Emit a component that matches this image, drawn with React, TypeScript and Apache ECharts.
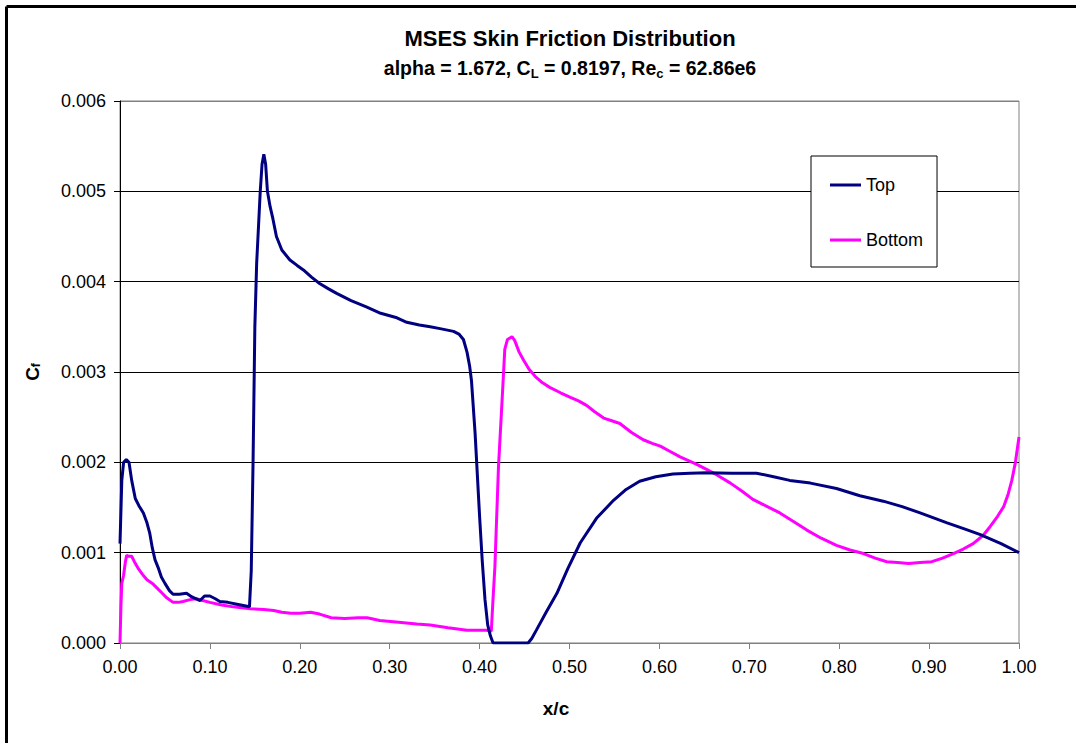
import React, { useEffect, useRef } from "react";
import * as echarts from "echarts";

const topX = [0.000, 0.002, 0.004, 0.007, 0.010, 0.013, 0.017, 0.021, 0.026, 0.030, 0.033, 0.036, 0.039, 0.043, 0.046, 0.050, 0.055, 0.059, 0.066, 0.074, 0.080, 0.089, 0.094, 0.100, 0.106, 0.111, 0.120, 0.130, 0.140, 0.144, 0.146, 0.148, 0.150, 0.152, 0.154, 0.156, 0.158, 0.160, 0.162, 0.164, 0.167, 0.170, 0.174, 0.180, 0.189, 0.197, 0.204, 0.213, 0.222, 0.232, 0.241, 0.257, 0.274, 0.290, 0.308, 0.319, 0.333, 0.345, 0.356, 0.371, 0.377, 0.382, 0.386, 0.389, 0.391, 0.395, 0.400, 0.403, 0.406, 0.409, 0.412, 0.415, 0.454, 0.458, 0.463, 0.474, 0.486, 0.498, 0.512, 0.530, 0.549, 0.563, 0.578, 0.596, 0.615, 0.634, 0.653, 0.680, 0.708, 0.727, 0.745, 0.768, 0.797, 0.823, 0.849, 0.870, 0.890, 0.920, 0.940, 0.957, 0.980, 1.000];
const topCf = [0.0011, 0.0018, 0.0020, 0.00203, 0.0020, 0.0018, 0.0016, 0.00152, 0.00144, 0.00133, 0.00122, 0.00105, 0.00092, 0.00082, 0.00073, 0.00066, 0.00058, 0.00054, 0.00054, 0.00055, 0.00051, 0.00047, 0.00052, 0.00052, 0.00049, 0.00046, 0.00045, 0.00043, 0.00041, 0.0004, 0.0008, 0.0020, 0.0035, 0.0042, 0.0046, 0.0050, 0.0053, 0.00541, 0.0053, 0.0050, 0.00483, 0.0047, 0.0045, 0.00435, 0.00424, 0.00418, 0.00413, 0.00405, 0.00398, 0.00392, 0.00387, 0.00379, 0.00372, 0.00365, 0.0036, 0.00355, 0.00352, 0.0035, 0.00348, 0.00345, 0.00342, 0.00336, 0.00322, 0.00306, 0.0029, 0.00232, 0.0014, 0.0009, 0.00048, 0.0002, 0.00008, 0.0, 0.0, 0.00005, 0.00014, 0.00034, 0.00055, 0.00082, 0.00111, 0.00138, 0.00158, 0.0017, 0.00179, 0.00184, 0.00187, 0.00188, 0.001885, 0.00188, 0.00188, 0.00184, 0.0018, 0.00177, 0.00171, 0.00163, 0.00157, 0.00151, 0.00144, 0.00133, 0.00126, 0.0012, 0.0011, 0.001];

const bottomX = [0.000, 0.001, 0.002, 0.004, 0.006, 0.0074, 0.010, 0.013, 0.016, 0.020, 0.025, 0.030, 0.036, 0.041, 0.047, 0.052, 0.059, 0.065, 0.070, 0.078, 0.085, 0.092, 0.100, 0.113, 0.126, 0.145, 0.160, 0.171, 0.180, 0.190, 0.200, 0.212, 0.222, 0.235, 0.250, 0.265, 0.275, 0.289, 0.310, 0.330, 0.345, 0.365, 0.386, 0.408, 0.413, 0.415, 0.417, 0.421, 0.424, 0.426, 0.428, 0.431, 0.436, 0.439, 0.444, 0.449, 0.455, 0.462, 0.470, 0.478, 0.490, 0.501, 0.510, 0.519, 0.528, 0.538, 0.547, 0.556, 0.569, 0.582, 0.592, 0.601, 0.612, 0.623, 0.641, 0.653, 0.664, 0.679, 0.692, 0.704, 0.720, 0.734, 0.750, 0.764, 0.780, 0.797, 0.812, 0.827, 0.840, 0.853, 0.865, 0.877, 0.890, 0.903, 0.915, 0.927, 0.938, 0.949, 0.960, 0.968, 0.976, 0.983, 0.988, 0.992, 0.996, 1.000];
const bottomCf = [0.0, 0.0004, 0.00066, 0.00075, 0.0009, 0.00097, 0.00096, 0.00096, 0.0009, 0.00083, 0.00076, 0.0007, 0.00066, 0.00061, 0.00055, 0.0005, 0.00045, 0.00045, 0.00046, 0.00048, 0.00049, 0.00047, 0.00045, 0.00042, 0.0004, 0.00038, 0.00037, 0.00036, 0.00034, 0.00033, 0.00033, 0.00034, 0.00032, 0.00028, 0.00027, 0.00028, 0.00028, 0.00025, 0.00023, 0.00021, 0.0002, 0.00017, 0.00014, 0.00014, 0.00013, 0.0005, 0.00084, 0.00195, 0.0025, 0.00287, 0.00325, 0.00336, 0.00339, 0.00335, 0.00322, 0.00313, 0.00303, 0.00295, 0.00288, 0.00283, 0.00277, 0.00272, 0.00268, 0.00263, 0.00256, 0.00249, 0.00246, 0.00243, 0.00233, 0.00225, 0.00221, 0.00218, 0.00212, 0.00206, 0.00198, 0.00192, 0.00186, 0.00177, 0.00168, 0.00159, 0.00151, 0.00144, 0.00134, 0.00125, 0.00116, 0.00108, 0.00103, 0.00099, 0.00094, 0.0009, 0.00089, 0.00088, 0.00089, 0.0009, 0.00094, 0.00099, 0.00104, 0.0011, 0.00119, 0.00129, 0.0014, 0.00151, 0.00165, 0.0018, 0.002, 0.00228];

const seriesNames = ["Top", "Bottom"];
const seriesColors = ["#000080", "#FF00FF"];
const titleLine1 = "MSES Skin Friction Distribution";
const xAxisTitle = "x/c";

const FONT = "'Liberation Sans', Arial, sans-serif";

export default function App() {
  const ref = useRef<HTMLDivElement>(null);
  useEffect(() => {
    if (!ref.current) return;
    const chart = echarts.init(ref.current, undefined, { renderer: "svg" });
    const pairs = (xs: number[], ys: number[]) => xs.map((x, i) => [x, ys[i]]);
    chart.setOption({
      animation: false,
      backgroundColor: "#ffffff",
      textStyle: { fontFamily: FONT },
      grid: {
        left: 120, right: 57, top: 101, bottom: 100,
        show: true, borderColor: "#808080", borderWidth: 1, backgroundColor: "transparent",
      },
      legend: {
        orient: "vertical",
        left: 811, top: 156,
        padding: [20, 14, 18, 19],
        itemGap: 37,
        itemWidth: 31, itemHeight: 3,
        icon: "rect",
        backgroundColor: "#ffffff",
        borderColor: "#000000", borderWidth: 1,
        textStyle: { fontFamily: FONT, fontSize: 18, color: "#000", lineHeight: 18 },
        data: seriesNames,
      },
      xAxis: {
        type: "value", min: 0, max: 1, interval: 0.1,
        axisLine: { show: true, lineStyle: { color: "#808080", width: 1 } },
        axisTick: { show: true, inside: false, length: 6, lineStyle: { color: "#808080" } },
        axisLabel: { margin: 15, fontSize: 18, fontFamily: FONT, color: "#000", formatter: (v: number) => v.toFixed(2) },
        splitLine: { show: false },
      },
      yAxis: {
        type: "value", min: 0, max: 0.006, interval: 0.001,
        axisLine: { show: true, lineStyle: { color: "#000", width: 1 } },
        axisTick: { show: true, inside: false, length: 6, lineStyle: { color: "#000" } },
        axisLabel: { margin: 14, fontSize: 18, fontFamily: FONT, color: "#000", formatter: (v: number) => v.toFixed(3) },
        splitLine: { show: true, lineStyle: { color: ["#808080", "#000", "#000", "#000", "#000", "#000", "#808080"], width: 1 } },
      },
      series: [
        {
          name: seriesNames[0], type: "line", symbol: "none", smooth: false,
          lineStyle: { color: seriesColors[0], width: 3 }, itemStyle: { color: seriesColors[0] },
          data: pairs(topX, topCf), z: 3,
        },
        {
          name: seriesNames[1], type: "line", symbol: "none", smooth: false,
          lineStyle: { color: seriesColors[1], width: 3 }, itemStyle: { color: seriesColors[1] },
          data: pairs(bottomX, bottomCf), z: 2,
        },
      ],
      graphic: [
        { type: "line", shape: { x1: 6.5, y1: 6.5, x2: 1076, y2: 6.5 }, style: { stroke: "#000", lineWidth: 3 } },
        { type: "line", shape: { x1: 6.5, y1: 6.5, x2: 6.5, y2: 743 }, style: { stroke: "#000", lineWidth: 3 } },
        {
          type: "text", x: 570, y: 23,
          style: {
            text: "{a|" + titleLine1 + "}\n{b|alpha = 1.672, C}{s|L}{b| = 0.8197, Re}{s|c}{b| = 62.86e6}",
            align: "center", verticalAlign: "top", fill: "#000",
            rich: {
              a: { fontFamily: FONT, fontWeight: "bold", fontSize: 22, lineHeight: 30, verticalAlign: "middle", fill: "#000" },
              b: { fontFamily: FONT, fontWeight: "bold", fontSize: 19.5, lineHeight: 30, verticalAlign: "middle", fill: "#000" },
              s: { fontFamily: FONT, fontWeight: "bold", fontSize: 13, lineHeight: 13, verticalAlign: "bottom", padding: [0, 0, 3, 0], fill: "#000" },
            },
          },
        },
        {
          type: "text", x: 32, y: 372, rotation: Math.PI / 2,
          style: {
            text: "{b|C}{s|f}",
            align: "center", verticalAlign: "middle", fill: "#000",
            rich: {
              b: { fontFamily: FONT, fontWeight: "bold", fontSize: 19, lineHeight: 26, verticalAlign: "middle", fill: "#000" },
              s: { fontFamily: FONT, fontWeight: "bold", fontSize: 12, lineHeight: 12, verticalAlign: "bottom", padding: [0, 0, 3, 0], fill: "#000" },
            },
          },
        },
        {
          type: "text", x: 556, y: 708,
          style: {
            text: xAxisTitle, align: "center", verticalAlign: "middle",
            font: "bold 19px " + FONT, fill: "#000",
          },
        },
      ],
    });
    return () => chart.dispose();
  }, []);
  return (
    <div
      ref={ref}
      style={{ position: "fixed", left: 0, top: 0, width: 1076, height: 743 }}
    />
  );
}
